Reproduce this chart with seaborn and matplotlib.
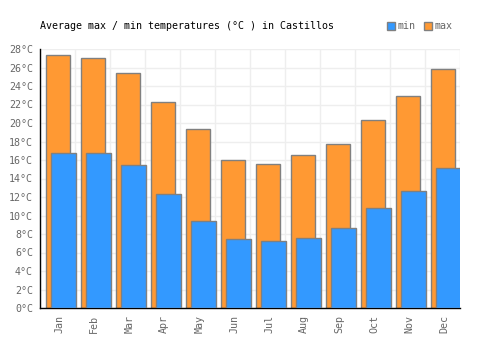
import numpy as np
import pandas as pd
import matplotlib
matplotlib.use('Agg')
import matplotlib.pyplot as plt
import seaborn as sns
from matplotlib.patches import Patch

months = ['Jan', 'Feb', 'Mar', 'Apr', 'May', 'Jun', 'Jul', 'Aug', 'Sep', 'Oct', 'Nov', 'Dec']
t_max = [27.4, 27.0, 25.4, 22.3, 19.3, 16.0, 15.6, 16.5, 17.7, 20.3, 22.9, 25.8]
t_min = [16.8, 16.8, 15.5, 12.3, 9.4, 7.5, 7.2, 7.6, 8.7, 10.8, 12.6, 15.1]

sns.set_style('white')
plt.rcParams['font.family'] = ['DejaVu Sans Mono']

pos = np.arange(len(months))
df = pd.DataFrame({'pos': pos, 'max': t_max, 'min': t_min})

fig = plt.figure(figsize=(5, 3.5), dpi=100)
ax = fig.add_axes([0.08, 0.12, 0.84, 0.74])

orange = '#ff9933'
blue = '#3399ff'
edge = '#808080'

sns.barplot(x=df['pos'] + 0.01, y=df['max'], native_scale=True, width=0.67,
            color=orange, saturation=1, edgecolor=edge, linewidth=1, ax=ax, zorder=2)
sns.barplot(x=df['pos'] + 0.17, y=df['min'], native_scale=True, width=0.70,
            color=blue, saturation=1, edgecolor=edge, linewidth=1, ax=ax, zorder=3)

ax.set_xlim(-0.5, 11.5)
ax.set_ylim(0, 28)
ax.set_yticks(range(0, 29, 2))
ax.set_yticklabels([f'{v}°C' for v in range(0, 29, 2)])
ax.set_xticks(pos + 0.05)
ax.set_xticklabels(months, rotation=90)
ax.set_xlabel('')
ax.set_ylabel('')
ax.tick_params(axis='both', length=0, labelsize=7.2, colors='#666666', pad=5)

ax.set_xticks(np.arange(-0.5, 12, 1), minor=True)
ax.grid(True, which='minor', axis='x', color='#eeeeee', linewidth=1, zorder=0)
ax.grid(True, which='major', axis='y', color='#eeeeee', linewidth=1, zorder=0)
ax.grid(False, which='major', axis='x')
ax.set_axisbelow(True)

sns.despine(ax=ax, top=True, right=True)
ax.spines['left'].set_color('black')
ax.spines['bottom'].set_color('black')
ax.spines['left'].set_linewidth(1)
ax.spines['bottom'].set_linewidth(1)

fig.text(0.08, 0.925, 'Average max / min temperatures (°C ) in Castillos',
         fontsize=7.2, color='black', va='center')

handles = [Patch(facecolor=blue, edgecolor=edge, label='min'),
           Patch(facecolor=orange, edgecolor=edge, label='max')]
fig.legend(handles=handles, loc='center right', bbox_to_anchor=(0.905, 0.925),
           ncol=2, frameon=False, fontsize=7.2, labelcolor='#666666',
           handlelength=0.8, handleheight=0.8, handletextpad=0.3, columnspacing=0.8,
           borderaxespad=0, borderpad=0)

fig.savefig('out.png', dpi=100)
